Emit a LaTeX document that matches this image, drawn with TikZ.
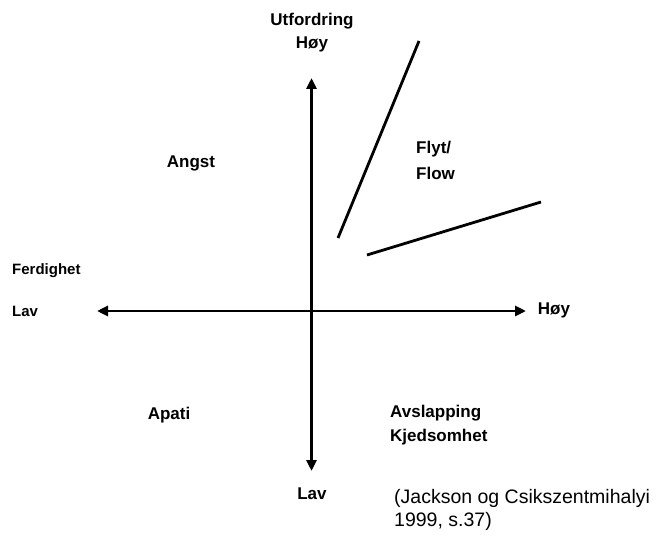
\documentclass[tikz,border=0pt]{standalone}
\usepackage{fontspec}
\setmainfont{Liberation Sans}
\usetikzlibrary{arrows.meta}
\begin{document}
\begin{tikzpicture}[x=1pt,y=-1pt,
  lbl/.style={font=\fontsize{17}{19}\selectfont\bfseries, inner sep=0pt},
  small/.style={font=\fontsize{15}{17}\selectfont\bfseries, inner sep=0pt},
  cite/.style={font=\fontsize{19.5}{23}\selectfont, inner sep=0pt, align=left},
  axis/.style={line width=2.8pt, {Triangle[length=11pt,width=10pt]}-{Triangle[length=11pt,width=10pt]}},
  bound/.style={line width=2.8pt}]
\useasboundingbox (0,0) rectangle (660,540);
% axes ends
\coordinate (L) at (97,311);
\coordinate (R) at (526,311);
\coordinate (T) at (311.5,78);
\coordinate (B) at (311.5,471);
\draw[axis] (L) -- (R);
\draw[axis] (T) -- (B);
% flow boundary lines
\coordinate (a1) at (338,238);
\coordinate (a2) at (419,41);
\coordinate (b1) at (367,255);
\coordinate (b2) at (541,202);
\draw[bound] (a1) -- (a2);
\draw[bound] (b1) -- (b2);
% labels
\node[lbl] (utf) at (312,21) {Utfordring};
\node[lbl] (hoyt) at (312,44) {Høy};
\node[lbl] (angst) at (191,163) {Angst};
\node[lbl, anchor=west] (flyt) at (416,149) {Flyt/};
\node[lbl, anchor=west] (flow) at (416,173) {Flow};
\node[small, anchor=west] (ferd) at (12,271) {Ferdighet};
\node[small, anchor=west] (lavl) at (12,311) {Lav};
\node[lbl] (hoyr) at (554,310) {Høy};
\node[lbl] (apati) at (169,415) {Apati};
\node[lbl, anchor=west] (avsl) at (390,413) {Avslapping};
\node[lbl, anchor=west] (kjed) at (390,437) {Kjedsomhet};
\node[lbl] (lavb) at (312,494) {Lav};
\node[cite, anchor=west] (c1) at (394,498) {(Jackson og Csikszentmihalyi};
\node[cite, anchor=west] (c2) at (394,521) {1999, s.37)};
\end{tikzpicture}
\end{document}
